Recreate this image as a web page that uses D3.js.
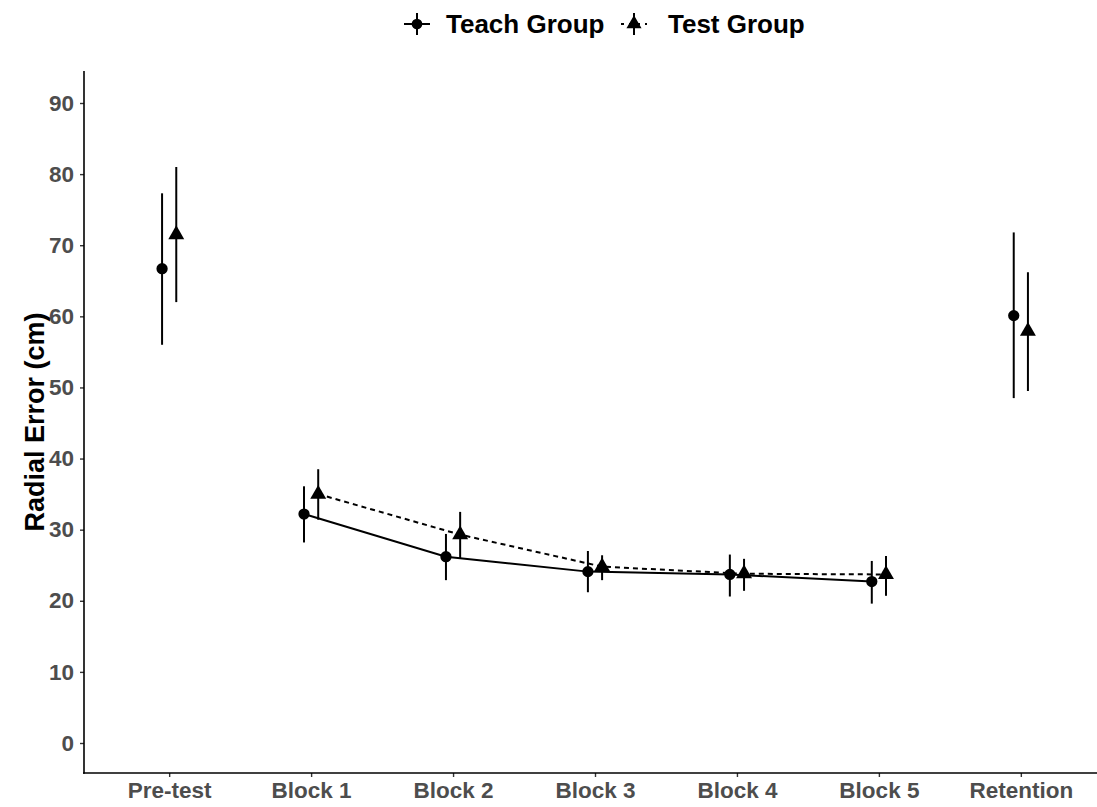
<!DOCTYPE html>
<html>
<head>
<meta charset="utf-8">
<script src="https://cdn.jsdelivr.net/npm/d3@7"></script>
<style>
  body { margin: 0; background: #fff; }
  svg { font-family: "Liberation Sans", Arial, sans-serif; }
</style>
</head>
<body>
<svg id="chart"></svg>
<script>
const WIDTH = 1097;
const HEIGHT = 807;

// Plot panel edges.
const LEFT = 84;
const RIGHT = 1106; // panel runs a little past the window
const TOP = 71;
const BOTTOM = 773;

const phases = ['Pre-test', 'Block 1', 'Block 2', 'Block 3', 'Block 4', 'Block 5', 'Retention'];
const yTicks = [0, 10, 20, 30, 40, 50, 60, 70, 80, 90];

// Means and error bar limits.
const teachMean = [66.7, 32.2, 26.2, 24.1, 23.7, 22.7, 60.1];
const teachLow = [56.0, 28.2, 22.9, 21.2, 20.6, 19.6, 48.5];
const teachHigh = [77.3, 36.1, 29.4, 27.0, 26.5, 25.6, 71.8];

const testMean = [71.5, 35.0, 29.3, 24.8, 23.8, 23.7, 57.9];
const testLow = [62.0, 31.4, 26.0, 22.9, 21.4, 20.7, 49.5];
const testHigh = [81.0, 38.5, 32.5, 26.4, 25.9, 26.3, 66.2];

// Only the training blocks are joined by lines.
const linkedPhases = ['Block 1', 'Block 2', 'Block 3', 'Block 4', 'Block 5'];

const groups = [
  {name: 'Teach Group', mean: teachMean, low: teachLow, high: teachHigh, shift: -0.05, dash: null, symbol: d3.symbolCircle, size: 100},
  {name: 'Test Group', mean: testMean, low: testLow, high: testHigh, shift: 0.05, dash: '5,4', symbol: d3.symbolTriangle, size: 110}
];

const svg = d3.select('#chart').attr('width', WIDTH).attr('height', HEIGHT);

const xScale = d3.scalePoint().domain(phases).range([LEFT, RIGHT]).padding(0.6);
const yScale = d3.scaleLinear().domain([0, 90]).range([743, 103]);

// position of a dodged point
const xPos = (g, i) => xScale(phases[i]) + g.shift * xScale.step();

// Axes
const xAxis = svg.append('g')
  .attr('transform', `translate(0, ${BOTTOM})`)
  .call(d3.axisBottom(xScale).tickSizeOuter(0).tickSize(4).tickPadding(5));
xAxis.select('.domain').remove();
svg.append('line')
  .attr('x1', LEFT - 1).attr('x2', WIDTH)
  .attr('y1', BOTTOM).attr('y2', BOTTOM)
  .attr('stroke', 'black').attr('stroke-width', 1.6);

const yAxis = svg.append('g')
  .attr('transform', `translate(${LEFT}, 0)`)
  .call(d3.axisLeft(yScale).tickValues(yTicks).tickSize(4).tickPadding(6));
yAxis.select('.domain').remove();
svg.append('line')
  .attr('x1', LEFT).attr('x2', LEFT)
  .attr('y1', TOP).attr('y2', BOTTOM + 0.8)
  .attr('stroke', 'black').attr('stroke-width', 1.6);

svg.selectAll('.tick line').attr('stroke', '#333').attr('stroke-width', 1.4);
svg.selectAll('.tick text')
  .attr('fill', '#4d4d4d')
  .attr('font-size', 22.5)
  .attr('font-weight', 'bold')
  .attr('font-family', '"Liberation Sans", Arial, sans-serif');

svg.append('text')
  .attr('transform', `translate(44, ${(TOP + BOTTOM) / 2}) rotate(-90)`)
  .attr('text-anchor', 'middle')
  .attr('font-size', 27)
  .attr('font-weight', 'bold')
  .text('Radial Error (cm)');

// Lines through the blocks
for (const g of groups) {
  const idx = linkedPhases.map(p => phases.indexOf(p));
  const line = d3.line().x(i => xPos(g, i)).y(i => yScale(g.mean[i]));
  svg.append('path')
    .datum(idx)
    .attr('d', line)
    .attr('fill', 'none')
    .attr('stroke', 'black')
    .attr('stroke-width', 2)
    .attr('stroke-dasharray', g.dash);
}

// Error bars and points
for (const g of groups) {
  const layer = svg.append('g');
  layer.selectAll('line')
    .data(phases.map((_, i) => i))
    .join('line')
    .attr('x1', i => xPos(g, i)).attr('x2', i => xPos(g, i))
    .attr('y1', i => yScale(g.low[i])).attr('y2', i => yScale(g.high[i]))
    .attr('stroke', 'black')
    .attr('stroke-width', 2);
  layer.selectAll('path')
    .data(phases.map((_, i) => i))
    .join('path')
    .attr('d', d3.symbol().type(g.symbol).size(g.size))
    .attr('transform', i => `translate(${xPos(g, i)}, ${yScale(g.mean[i])})`)
    .attr('fill', 'black');
}

// Legend at the top
const legendItems = [
  {g: groups[0], x: 417, textX: 446},
  {g: groups[1], x: 634, textX: 668}
];
for (const item of legendItems) {
  const lg = svg.append('g').attr('transform', `translate(${item.x}, 24)`);
  lg.append('line')
    .attr('x1', -13).attr('x2', 13).attr('y1', 0).attr('y2', 0)
    .attr('stroke', 'black').attr('stroke-width', 2)
    .attr('stroke-dasharray', item.g.dash ? '3,5' : null);
  lg.append('line')
    .attr('x1', 0).attr('x2', 0).attr('y1', -11).attr('y2', 11)
    .attr('stroke', 'black').attr('stroke-width', 2);
  lg.append('path')
    .attr('d', d3.symbol().type(item.g.symbol).size(item.g.size * 0.9))
    .attr('fill', 'black');
  svg.append('text')
    .attr('x', item.textX).attr('y', 33)
    .attr('font-size', 26)
    .attr('font-weight', 'bold')
    .text(item.g.name);
}
</script>
</body>
</html>
